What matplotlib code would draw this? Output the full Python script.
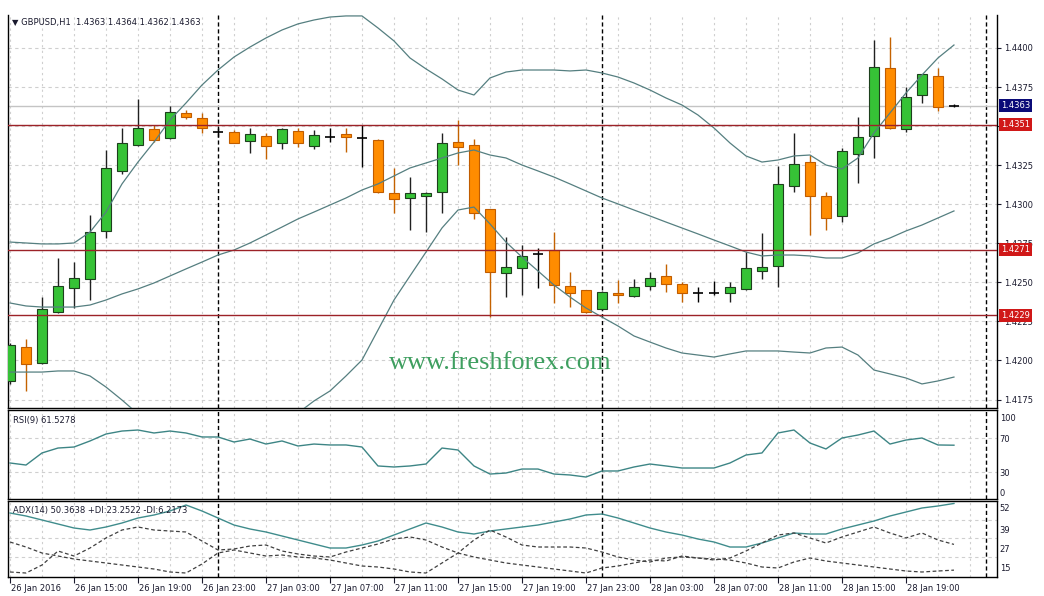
import matplotlib
matplotlib.use('Agg')
import matplotlib.pyplot as plt
import matplotlib.transforms as mtransforms
import numpy as np

# ---------------- data ----------------
time_labels = ["26 Jan 2016", "26 Jan 15:00", "26 Jan 19:00", "26 Jan 23:00",
               "27 Jan 03:00", "27 Jan 07:00", "27 Jan 11:00", "27 Jan 15:00",
               "27 Jan 19:00", "27 Jan 23:00", "28 Jan 03:00", "28 Jan 07:00",
               "28 Jan 11:00", "28 Jan 15:00", "28 Jan 19:00"]
day_breaks = [13, 37, 61]   # bar index of 27 Jan 00:00, 28 Jan 00:00, 29 Jan 00:00

opens = [1.41869, 1.42086, 1.41984, 1.42310, 1.42464, 1.42522, 1.42829, 1.43213, 1.43379, 1.43482,
         1.43424, 1.43584, 1.43552, 1.43462, 1.43462, 1.43405, 1.43437, 1.43392, 1.43469, 1.43373,
         1.43430, 1.43450, 1.43424, 1.43411, 1.43072, 1.43040, 1.43053, 1.43078, 1.43398, 1.43379,
         1.42970, 1.42560, 1.42592, 1.42682, 1.42707, 1.42477, 1.42451, 1.42330, 1.42430, 1.42413,
         1.42477, 1.42541, 1.42490, 1.42430, 1.42430, 1.42430, 1.42458, 1.42573, 1.42605, 1.43117,
         1.43270, 1.43053, 1.42925, 1.43322, 1.43437, 1.43872, 1.43482, 1.43699, 1.43821, 1.43630]
highs = [1.42112, 1.42138, 1.42406, 1.42656, 1.42630, 1.42931, 1.43347, 1.43488, 1.43674, 1.43507,
         1.43629, 1.43603, 1.43584, 1.43488, 1.43475, 1.43488, 1.43456, 1.43488, 1.43488, 1.43475,
         1.43488, 1.43488, 1.43507, 1.43418, 1.43232, 1.43174, 1.43078, 1.43456, 1.43539, 1.43418,
         1.42970, 1.42790, 1.42739, 1.42720, 1.42822, 1.42566, 1.42451, 1.42445, 1.42515, 1.42522,
         1.42566, 1.42618, 1.42502, 1.42470, 1.42509, 1.42502, 1.42694, 1.42816, 1.43245, 1.43456,
         1.43315, 1.43078, 1.43360, 1.43558, 1.44051, 1.44070, 1.43750, 1.43834, 1.43872, 1.43640]
lows = [1.41850, 1.41805, 1.41978, 1.42304, 1.42336, 1.42387, 1.42784, 1.43194, 1.43373, 1.43398,
        1.43418, 1.43546, 1.43456, 1.43430, 1.43389, 1.43328, 1.43290, 1.43354, 1.43366, 1.43354,
        1.43398, 1.43334, 1.43238, 1.43072, 1.42944, 1.42835, 1.42822, 1.42944, 1.43251, 1.42906,
        1.42278, 1.42406, 1.42419, 1.42464, 1.42368, 1.42342, 1.42304, 1.42323, 1.42368, 1.42406,
        1.42451, 1.42438, 1.42374, 1.42374, 1.42419, 1.42374, 1.42451, 1.42522, 1.42470, 1.43078,
        1.42803, 1.42835, 1.42886, 1.43136, 1.43296, 1.43482, 1.43462, 1.43648, 1.43597, 1.43620]
closes = [1.42099, 1.41978, 1.42330, 1.42477, 1.42528, 1.42822, 1.43232, 1.43392, 1.43488, 1.43411,
          1.43590, 1.43558, 1.43488, 1.43462, 1.43392, 1.43450, 1.43373, 1.43482, 1.43392, 1.43443,
          1.43430, 1.43430, 1.43424, 1.43078, 1.43034, 1.43072, 1.43072, 1.43392, 1.43366, 1.42944,
          1.42566, 1.42598, 1.42669, 1.42682, 1.42483, 1.42430, 1.42310, 1.42438, 1.42419, 1.42470,
          1.42528, 1.42490, 1.42430, 1.42430, 1.42430, 1.42470, 1.42592, 1.42598, 1.43130, 1.43258,
          1.43053, 1.42912, 1.43341, 1.43430, 1.43878, 1.43488, 1.43686, 1.43834, 1.43622, 1.43630]

bb_upper = [1.42758, 1.42752, 1.42746, 1.42746, 1.42752, 1.42822, 1.42950, 1.43130, 1.43270, 1.43398,
            1.43539, 1.43648, 1.43763, 1.43859, 1.43942, 1.44006, 1.44064, 1.44115, 1.44154, 1.44179,
            1.44198, 1.44205, 1.44205, 1.44128, 1.44045, 1.43936, 1.43866, 1.43802, 1.43731, 1.43699,
            1.43808, 1.43846, 1.43859, 1.43859, 1.43859, 1.43853, 1.43859, 1.43840, 1.43814, 1.43776,
            1.43731, 1.43680, 1.43635, 1.43571, 1.43488, 1.43392, 1.43309, 1.43270, 1.43283, 1.43309,
            1.43315, 1.43251, 1.43226, 1.43296, 1.43456, 1.43584, 1.43712, 1.43827, 1.43936, 1.44019]
bb_middle = [1.42368, 1.42349, 1.42342, 1.42342, 1.42342, 1.42355, 1.42387, 1.42426, 1.42458, 1.42496,
             1.42541, 1.42586, 1.42630, 1.42675, 1.42707, 1.42752, 1.42803, 1.42854, 1.42906, 1.42950,
             1.42995, 1.43040, 1.43091, 1.43130, 1.43181, 1.43232, 1.43264, 1.43296, 1.43328, 1.43347,
             1.43315, 1.43296, 1.43251, 1.43213, 1.43174, 1.43130, 1.43085, 1.43040, 1.43002, 1.42963,
             1.42925, 1.42886, 1.42848, 1.42810, 1.42771, 1.42733, 1.42694, 1.42669, 1.42675, 1.42675,
             1.42669, 1.42656, 1.42656, 1.42688, 1.42746, 1.42784, 1.42829, 1.42867, 1.42912, 1.42957]
bb_lower = [1.41926, 1.41926, 1.41926, 1.41933, 1.41933, 1.41901, 1.41830, 1.41747, 1.41658, 1.41594,
            1.41536, 1.41491, 1.41466, 1.41453, 1.41453, 1.41472, 1.41510, 1.41568, 1.41664, 1.41741,
            1.41805, 1.41901, 1.42003, 1.42195, 1.42387, 1.42541, 1.42694, 1.42848, 1.42963, 1.42982,
            1.42874, 1.42758, 1.42662, 1.42573, 1.42483, 1.42406, 1.42336, 1.42278, 1.42221, 1.42157,
            1.42118, 1.42080, 1.42048, 1.42035, 1.42022, 1.42042, 1.42061, 1.42061, 1.42061, 1.42054,
            1.42048, 1.42080, 1.42086, 1.42035, 1.41939, 1.41914, 1.41888, 1.41850, 1.41869, 1.41894]

rsi = [40.6, 38.2, 52.4, 58.2, 59.4, 66.5, 74.7, 78.2, 79.4, 75.9,
       78.2, 75.9, 71.2, 71.2, 65.3, 68.8, 62.9, 66.5, 60.6, 62.9,
       61.8, 61.8, 59.4, 37.1, 35.9, 37.1, 39.4, 58.2, 55.9, 37.1,
       27.6, 28.8, 33.5, 33.5, 27.6, 26.5, 24.1, 31.2, 31.2, 35.9,
       39.4, 37.1, 34.7, 34.7, 34.7, 40.6, 50.0, 52.4, 75.9, 79.4,
       64.1, 57.1, 70.0, 73.5, 78.2, 62.9, 67.6, 70.0, 61.8, 61.5278]

adx = [44.05, 42.07, 39.42, 36.77, 34.12, 32.79, 34.78, 37.43, 40.74, 42.73,
       45.38, 49.35, 45.38, 40.74, 36.10, 33.46, 31.47, 28.82, 26.17, 23.52,
       20.87, 20.87, 22.86, 25.51, 29.48, 33.46, 37.43, 34.78, 31.47, 30.14,
       32.13, 33.46, 34.78, 36.10, 38.09, 40.08, 42.73, 43.39, 40.74, 37.43,
       34.12, 31.47, 29.48, 26.83, 24.85, 21.53, 21.53, 24.18, 27.50, 30.81,
       30.14, 30.14, 33.46, 36.10, 38.75, 42.07, 44.71, 47.36, 48.69, 50.3638]
plus_di = [4.98, 4.31, 9.61, 18.88, 15.57, 20.87, 27.50, 32.79, 34.78, 32.79,
           32.13, 31.47, 25.51, 19.55, 20.21, 22.20, 22.86, 18.88, 16.90, 15.57,
           14.91, 18.22, 20.87, 23.52, 26.83, 28.16, 26.17, 21.53, 17.56, 14.91,
           12.92, 10.94, 9.61, 8.29, 6.96, 5.64, 4.31, 7.63, 8.95, 10.94,
           12.92, 12.26, 15.57, 14.25, 12.92, 14.25, 18.88, 24.18, 29.48, 30.81,
           27.50, 24.18, 28.16, 31.47, 34.78, 30.81, 27.50, 30.81, 26.17, 23.2522]
minus_di = [24.85, 21.53, 17.56, 15.57, 13.59, 12.26, 10.94, 9.61, 8.29, 6.96,
            4.98, 4.31, 10.28, 17.56, 19.55, 17.56, 15.57, 16.24, 14.91, 14.25,
            12.92, 10.94, 8.95, 8.29, 6.96, 4.98, 4.31, 10.94, 17.56, 26.17,
            32.79, 28.16, 22.86, 21.53, 21.53, 21.53, 20.87, 18.22, 14.91, 12.92,
            11.60, 14.25, 14.91, 14.25, 13.59, 12.92, 10.94, 8.29, 7.63, 11.60,
            14.25, 12.26, 10.94, 9.61, 8.29, 6.96, 5.64, 4.98, 5.64, 6.2173]

level_lines = [1.4351, 1.4271, 1.4229]
current_price = 1.4363
price_ticks = [1.4175, 1.4200, 1.4225, 1.4250, 1.4275, 1.4300, 1.4325, 1.4350, 1.4375, 1.4400]
hidden_price_ticks = [1.4350]          # fully covered by the 1.4351 marker
rsi_ticks = [100, 70, 30, 0]
adx_ticks = [52, 39.6, 27.2, 14.8]
adx_tick_labels = ["52", "39", "27", "15"]

# ---------------- figure ----------------
W, H = 1044, 596
fig = plt.figure(figsize=(W / 100, H / 100), dpi=100)
fig.patch.set_facecolor('white')
TXT = '#1a1a2e'
GRID = '#cfcfcf'
FS = 6


def px_axes(x0, y0, x1, y1):
    return fig.add_axes([x0 / W, 1 - y1 / H, (x1 - x0) / W, (y1 - y0) / H])


ax = px_axes(8, 15, 997, 408)
ax_rsi = px_axes(8, 410, 997, 499)
ax_adx = px_axes(8, 501, 997, 577)

n = len(opens)
x = np.arange(n)
o = np.array(opens); h = np.array(highs); l = np.array(lows); c = np.array(closes)
XL = (-0.125, 61.69)

for a in (ax, ax_rsi, ax_adx):
    a.set_xlim(*XL)
    a.set_facecolor('white')
    for s in a.spines.values():
        s.set_color('black')
        s.set_linewidth(1.0)
    for xv in range(0, 62, 2):
        a.axvline(xv, color=GRID, lw=0.8, ls=(0, (2, 3)), zorder=0.5)
    for d in day_breaks:
        a.axvline(d, color='black', lw=1.0, ls=(0, (3, 2)), zorder=1)
    a.yaxis.tick_right()
    a.tick_params(axis='y', direction='out', length=3, width=0.8, labelsize=FS,
                  colors=TXT, pad=2)
    a.tick_params(axis='x', bottom=False, labelbottom=False)

ax.spines['top'].set_visible(False)

# ---------- main price panel ----------
ax.set_ylim(1.41696, 1.44211)
for p in price_ticks:
    ax.axhline(p, color=GRID, lw=0.8, ls=(0, (3, 3)), zorder=0.5)
ax.set_yticks(price_ticks)
ax.set_yticklabels(['' if p in hidden_price_ticks else '%.4f' % p for p in price_ticks])

ax.axhline(current_price, color='#c4c4c4', lw=1.0, zorder=1.2)

up = c > o + 1e-9
dn = c < o - 1e-9
dj = ~(up | dn)
bw = 0.68
ax.vlines(x[up], l[up], h[up], color='#202020', lw=1.0, zorder=3)
ax.vlines(x[dn], l[dn], h[dn], color='#c46200', lw=1.0, zorder=3)
ax.vlines(x[dj], l[dj], h[dj], color='black', lw=1.0, zorder=3)
ax.bar(x[up], c[up] - o[up], bottom=o[up], width=bw, color='#36c236',
       edgecolor='#1d401d', linewidth=0.8, zorder=4)
ax.bar(x[dn], o[dn] - c[dn], bottom=c[dn], width=bw, color='#ff8c00',
       edgecolor='#c05c00', linewidth=0.8, zorder=4)
ax.hlines(o[dj], x[dj] - bw / 2, x[dj] + bw / 2, color='black', lw=1.2, zorder=4)

for band in (bb_upper, bb_middle, bb_lower):
    ax.plot(x, band, color='#557f80', lw=0.9, zorder=5)

for lv in level_lines:
    ax.axhline(lv, color='#9c2228', lw=1.0, zorder=6)

btrans = mtransforms.blended_transform_factory(ax.transAxes, ax.transData)
box_x = 1.0 + 4 / 989
ax.text(box_x, current_price, '%.4f' % current_price, transform=btrans, ha='left', va='center',
        fontsize=FS, color='white', zorder=10, clip_on=False,
        bbox=dict(boxstyle='square,pad=0.25', fc='#0b0b78', ec='none'))
for lv in level_lines:
    ax.text(box_x, lv, '%.4f' % lv, transform=btrans, ha='left', va='center',
            fontsize=FS, color='white', zorder=10, clip_on=False,
            bbox=dict(boxstyle='square,pad=0.25', fc='#d01818', ec='none'))

fig.text(12 / W, 1 - 22 / H, '\u25bc GBPUSD,H1  1.4363 1.4364 1.4362 1.4363',
         fontsize=FS, color=TXT, va='center', ha='left')
fig.text(500 / W, 1 - 369 / H, 'www.freshforex.com', fontsize=19,
         family='Liberation Serif', color='#3f9f60', ha='center', va='baseline')

# ---------- RSI panel ----------
ax_rsi.set_ylim(-1.76, 102.94)
for lv in (70, 30):
    ax_rsi.axhline(lv, color=GRID, lw=0.8, ls=(0, (3, 3)), zorder=0.5)
ax_rsi.plot(x, rsi, color='#3d8585', lw=1.0, zorder=5)
ax_rsi.set_yticks(rsi_ticks)
ax_rsi.set_yticklabels([str(v) for v in rsi_ticks])
ax_rsi.tick_params(axis='y', length=0)
rl = ax_rsi.get_yticklabels()
rl[0].set_va('top')
rl[0].set_transform(rl[0].get_transform() + mtransforms.ScaledTranslation(0, -2 / 100, fig.dpi_scale_trans))
rl[3].set_va('bottom')
fig.text(13 / W, 1 - 420 / H, 'RSI(9) 61.5278', fontsize=FS, color=TXT, va='center', ha='left')

# ---------- ADX panel ----------
ax_adx.set_ylim(52 - 76 / 1.51, 52)
for lv in adx_ticks[1:]:
    ax_adx.axhline(lv, color=GRID, lw=0.8, ls=(0, (3, 3)), zorder=0.5)
ax_adx.plot(x, adx, color='#3f8c8c', lw=1.0, zorder=5)
ax_adx.plot(x, plus_di, color='#404040', lw=0.9, ls=(0, (3, 2)), zorder=5)
ax_adx.plot(x, minus_di, color='#404040', lw=0.9, ls=(0, (3, 2)), zorder=5)
ax_adx.set_yticks(adx_ticks)
ax_adx.set_yticklabels(adx_tick_labels)
ax_adx.tick_params(axis='y', length=0)
for t, dy in zip(ax_adx.get_yticklabels(), (3, 6, 7, 7)):
    t.set_va('top')
    t.set_transform(t.get_transform() + mtransforms.ScaledTranslation(0, -dy / 100, fig.dpi_scale_trans))
fig.text(13 / W, 1 - 511 / H, 'ADX(14) 50.3638 +DI:23.2522 -DI:6.2173', fontsize=FS,
         color=TXT, va='center', ha='left')

ax_adx.set_xticks(list(range(0, 4 * len(time_labels), 4)))
ax_adx.set_xticklabels(time_labels)
ax_adx.tick_params(axis='x', bottom=True, labelbottom=True, direction='out', length=4,
                   width=0.8, labelsize=FS, colors=TXT, pad=1)
xoff = mtransforms.ScaledTranslation(1 / 100, 0, fig.dpi_scale_trans)
for t in ax_adx.get_xticklabels():
    t.set_ha('left')
    t.set_transform(t.get_transform() + xoff)

fig.savefig('out.png', dpi=100, facecolor='white')
